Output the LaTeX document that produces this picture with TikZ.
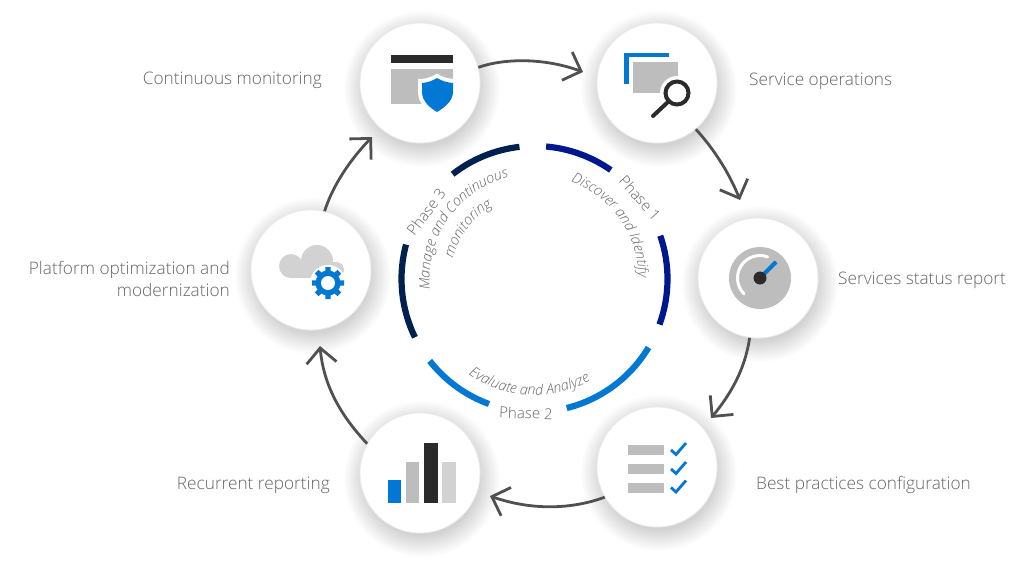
\documentclass[tikz,border=0pt]{standalone}
\usepackage{fontspec}
\setmainfont{Open Sans Light}
\usetikzlibrary{arrows.meta,decorations.text}
\definecolor{txtc}{HTML}{666666}
\definecolor{arrc}{HTML}{505050}
\definecolor{iconblue}{HTML}{0078D4}
\definecolor{icondark}{HTML}{2B2B2B}
\definecolor{icongray}{HTML}{BDBDBD}
\definecolor{iconlight}{HTML}{D2D2D2}
\definecolor{phaseA}{HTML}{00188F}
\definecolor{phaseC}{HTML}{002050}
\tikzset{
  disc/.style={circle,minimum size=120pt,inner sep=0pt,fill=white,draw=black!8,line width=0.8pt},
  lab/.style={text=txtc,font=\fontsize{17.25}{22}\selectfont,inner sep=0pt},
  phaselab/.style={text=txtc,font=\fontsize{15}{16}\selectfont,inner sep=0pt},
  flow/.style={draw=arrc,line width=2.8pt,-{Straight Barb[length=15pt,width=30pt,line width=2.8pt]}},
  ringarc/.style={line width=6.2pt},
}
\newcommand{\softshadow}[2]{%
  \foreach \rr in {57,58,...,78}{\fill[black,opacity=0.0095] (#1+2,#2+6) circle[radius=\rr pt];}%
}
\begin{document}
\begin{tikzpicture}[x=1pt,y=-1pt]
\useasboundingbox (0,0) rectangle (1024,565);
\fill[white] (0,0) rectangle (1024,565);
\softshadow{420}{83}\softshadow{657}{83}\softshadow{758}{278}
\softshadow{657}{467}\softshadow{420}{473}\softshadow{311}{270}
\node[disc] (c1) at (420,83) {};
\node[disc] (c2) at (657,83) {};
\node[disc] (c3) at (758,278) {};
\node[disc] (c4) at (657,467) {};
\node[disc] (c5) at (420,473) {};
\node[disc] (c6) at (311,270) {};
% flow arrows
\coordinate (t1) at (583,72);
\coordinate (t2) at (740,200);
\coordinate (t3) at (711,418);
\coordinate (t4) at (490,496);
\coordinate (t5) at (320,346);
\coordinate (t6) at (372,137);
\draw[flow] (c1.15) .. controls (505,58) and (545,58) .. (t1);
\draw[flow] (c2.-50) .. controls (715,150) and (730,175) .. (t2);
\draw[flow] (c3.-98) .. controls (745,370) and (730,395) .. (t3);
\draw[flow] (c4.210) .. controls (570,510) and (530,510) .. (t4);
\draw[flow] (c5.151) .. controls (345,420) and (324,390) .. (t5);
\draw[flow] (c6.77) .. controls (333,185) and (350,160) .. (t6);
% ring
\coordinate (ringc) at (534.5,279);
\begin{scope}[shift={(ringc)},x=1pt,y=1pt]
\draw[ringarc,phaseA] (85:133) arc[start angle=85,end angle=55,radius=133];
\draw[ringarc,phaseA] (19:133) arc[start angle=19,end angle=-20,radius=133];
\draw[ringarc,iconblue] (-31:133) arc[start angle=-31,end angle=-76,radius=133];
\draw[ringarc,iconblue] (-110:133) arc[start angle=-110,end angle=-142,radius=133];
\draw[ringarc,phaseC] (-154:133) arc[start angle=-154,end angle=-195,radius=133];
\draw[ringarc,phaseC] (128:133) arc[start angle=128,end angle=96.5,radius=133];
\path[decorate,decoration={text along path,text align=center,text color=txtc,
  text={|\itshape\fontsize{14.3}{16}\selectfont|Discover and Identify}}]
  (95:104) arc[start angle=95,end angle=-25,radius=104];
\path[decorate,decoration={text along path,text align=center,text color=txtc,
  text={|\itshape\fontsize{14.3}{16}\selectfont|Evaluate and Analyze}}]
  (-153:116) arc[start angle=-153,end angle=-33,radius=116];
\path[decorate,decoration={text along path,text align=center,text color=txtc,
  text={|\itshape\fontsize{14.3}{16}\selectfont|Manage and Continuous}}]
  (205:105) arc[start angle=205,end angle=85,radius=105];
\path[decorate,decoration={text along path,text align=center,text color=txtc,
  text={|\itshape\fontsize{14.3}{16}\selectfont|monitoring}}]
  (203:84) arc[start angle=203,end angle=83,radius=84];
\end{scope}
\node[phaselab,rotate=-48] (p1) at (640,198) {Phase 1};
\node[phaselab,rotate=-2] (p2) at (526,413) {Phase 2};
\node[phaselab,rotate=53] (p3) at (426,212) {Phase 3};
% labels
\node[lab,anchor=east] (l1) at (322,80) {Continuous monitoring};
\node[lab,anchor=west] (l2) at (749,81) {Service operations};
\node[lab,anchor=west] (l3) at (838,280) {Services status report};
\node[lab,anchor=west] (l4) at (756,485) {Best practices configuration};
\node[lab,anchor=east] (l5) at (330,485) {Recurrent reporting};
\node[lab,anchor=east,align=right] (l6) at (230,279) {Platform optimization and\\modernization};
% icon: window + shield
\fill[icondark] (391,55) rectangle (453,63);
\fill[icongray] (391,69) rectangle (453,104);
\fill[white] (437,73.5) .. controls (430,78) and (425,79) .. (418,79) -- (418,92) .. controls (418,104) and (428,112) .. (437,116) .. controls (446,112) and (457,104) .. (457,92) -- (457,79) .. controls (449,79) and (444,78) .. (437,73.5) -- cycle;
\fill[iconblue] (437,78) .. controls (432,81) and (428,82.5) .. (422,83) -- (422,92) .. controls (422,101) and (430,108) .. (437,112) .. controls (444,108) and (453,101) .. (453,92) -- (453,83) .. controls (447,82.5) and (442,81) .. (437,78) -- cycle;
% icon: window + magnifier
\fill[iconblue] (624,53) rectangle (669,57);
\fill[iconblue] (624,53) rectangle (628.5,84);
\fill[icongray] (633,62) rectangle (678,93);
\fill[white] (677,93) circle[radius=17];
\draw[icondark,line width=4pt] (677,93) circle[radius=11.5];
\draw[icondark,line width=4pt,line cap=round] (669,101) -- (653,116);
% icon: gauge
\fill[icongray] (760,278) circle[radius=31];
\begin{scope}[shift={(760,278)},x=1pt,y=1pt]
\draw[white,line width=3pt,line cap=round] (70:22.5) arc[start angle=70,end angle=225,radius=22.5];
\draw[iconblue,line width=4pt] (0,0) -- (16,16);
\fill[icondark] (0,0) circle[radius=6.5];
\end{scope}
% icon: checklist
\fill[icongray] (628,445) rectangle (664,455);
\fill[icongray] (628,464) rectangle (664,474);
\fill[icongray] (628,483) rectangle (664,493);
\draw[iconblue,line width=2.8pt] (671,450) -- (676,454.5) -- (686,443);
\draw[iconblue,line width=2.8pt] (671,469) -- (676,473.5) -- (686,462);
\draw[iconblue,line width=2.8pt] (671,487.5) -- (676,492) -- (686,480.5);
% icon: bars
\fill[iconblue] (388,480) rectangle (401,503);
\fill[icongray] (406,462) rectangle (419,503);
\fill[icondark] (424,443) rectangle (437.5,503);
\fill[iconlight] (442,462) rectangle (456,503);
% icon: cloud + gear
\fill[iconlight] (291,266) circle[radius=12];
\fill[iconlight] (317,261) circle[radius=16];
\fill[iconlight] (336,270) circle[radius=8];
\fill[iconlight] (291,262) rectangle (336,278);
\fill[white] (328,283) circle[radius=18];
\begin{scope}[shift={(328,283)},x=1pt,y=1pt]
\foreach \aa in {0,45,...,315}{\fill[iconblue,rotate=\aa] (-3.2,0) -- (-2.6,16) -- (2.6,16) -- (3.2,0) -- cycle;}
\fill[iconblue] (0,0) circle[radius=12.5];
\fill[white] (0,0) circle[radius=7];
\end{scope}
\end{tikzpicture}
\end{document}
